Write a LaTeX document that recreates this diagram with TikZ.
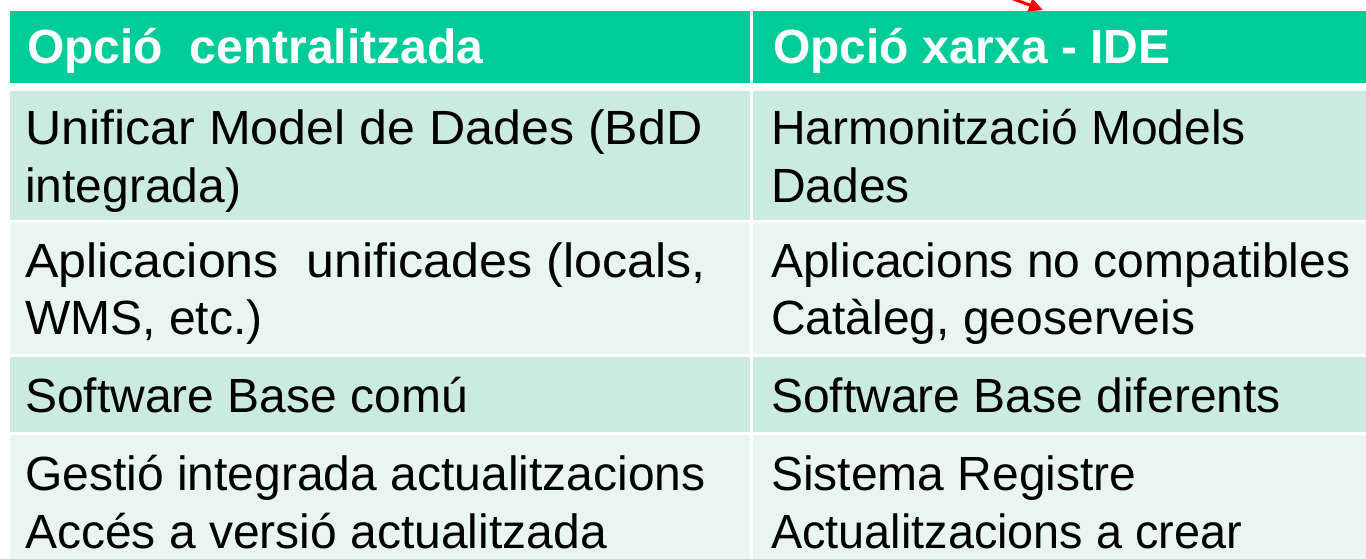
\documentclass[tikz,border=0pt]{standalone}
\usepackage{fontspec}
\setmainfont{Liberation Sans}
\usetikzlibrary{arrows.meta}
\definecolor{hdr}{RGB}{0,204,153}
\definecolor{rowA}{RGB}{204,235,224}
\definecolor{rowB}{RGB}{232,245,240}
\tikzset{
  hdrtxt/.style={anchor=base west, inner sep=0pt, text=white, font=\fontsize{48}{57}\selectfont\bfseries},
  celltxt/.style={anchor=base west, inner sep=0pt, text=black, font=\fontsize{48}{58}\selectfont},
}
\begin{document}
\begin{tikzpicture}[x=1pt,y=-1pt]
\useasboundingbox (0,0) rectangle (1366,559);
\clip (0,0) rectangle (1366,559);
% backgrounds
\fill[hdr] (10,11) rectangle (750,83);
\fill[hdr] (753,11) rectangle (1366,83);
\fill[rowA] (10,91) rectangle (750,220);
\fill[rowA] (753,91) rectangle (1366,220);
\fill[rowB] (10,223) rectangle (750,354);
\fill[rowB] (753,223) rectangle (1366,354);
\fill[rowA] (10,357) rectangle (750,432);
\fill[rowA] (753,357) rectangle (1366,432);
\fill[rowB] (10,435) rectangle (750,565);
\fill[rowB] (753,435) rectangle (1366,565);
% header
\node[hdrtxt] (h1) at (27,64) {Opció\ \ centralitzada};
\node[hdrtxt] (h2) at (773,64) {Opció xarxa - IDE};
% row 1
\node[celltxt] (a1) at (25,145) {\scalebox{1.045}[1]{Unificar Model de Dades (BdD}};
\node[celltxt] (a2) at (25,203) {integrada)};
\node[celltxt] (b1) at (771,145) {Harmonització Models};
\node[celltxt] (b2) at (771,203) {Dades};
% row 2
\node[celltxt] (c1) at (25,277) {\scalebox{1.045}[1]{Aplicacions\ \ unificades (locals,}};
\node[celltxt] (c2) at (25,334) {WMS, etc.)};
\node[celltxt] (d1) at (771,277) {Aplicacions no compatibles};
\node[celltxt] (d2) at (771,334) {Catàleg, geoserveis};
% row 3
\node[celltxt] (e1) at (25,412) {Software Base comú};
\node[celltxt] (f1) at (771,412) {Software Base diferents};
% row 4
\node[celltxt] (g1) at (25,490) {Gestió integrada actualitzacions};
\node[celltxt] (g2) at (25,548) {Accés a versió actualitzada};
\node[celltxt] (k1) at (771,490) {Sistema Registre};
\node[celltxt] (k2) at (771,548) {\scalebox{0.975}[1]{Actualitzacions a crear}};
% red arrow at top
\coordinate (arrS) at (1000,-6);
\coordinate (arrE) at (1043,10);
\draw[red, line width=3pt, -{Triangle[length=14pt,width=13pt]}] (arrS) -- (arrE);
\end{tikzpicture}
\end{document}
